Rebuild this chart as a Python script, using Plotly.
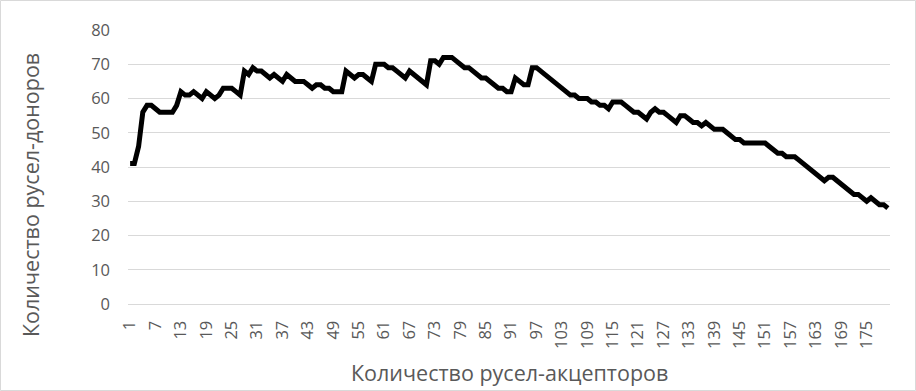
import plotly.graph_objects as go

categories = list(range(1, 181))
donors = [
    41, 41, 46, 56, 58, 58, 57, 56, 56, 56,
    56, 58, 62, 61, 61, 62, 61, 60, 62, 61,
    60, 61, 63, 63, 63, 62, 61, 68, 67, 69,
    68, 68, 67, 66, 67, 66, 65, 67, 66, 65,
    65, 65, 64, 63, 64, 64, 63, 63, 62, 62,
    62, 68, 67, 66, 67, 67, 66, 65, 70, 70,
    70, 69, 69, 68, 67, 66, 68, 67, 66, 65,
    64, 71, 71, 70, 72, 72, 72, 71, 70, 69,
    69, 68, 67, 66, 66, 65, 64, 63, 63, 62,
    62, 66, 65, 64, 64, 69, 69, 68, 67, 66,
    65, 64, 63, 62, 61, 61, 60, 60, 60, 59,
    59, 58, 58, 57, 59, 59, 59, 58, 57, 56,
    56, 55, 54, 56, 57, 56, 56, 55, 54, 53,
    55, 55, 54, 53, 53, 52, 53, 52, 51, 51,
    51, 50, 49, 48, 48, 47, 47, 47, 47, 47,
    47, 46, 45, 44, 44, 43, 43, 43, 42, 41,
    40, 39, 38, 37, 36, 37, 37, 36, 35, 34,
    33, 32, 32, 31, 30, 31, 30, 29, 29, 28,
]
x_ticks = list(range(1, 176, 6))
y_ticks = list(range(0, 81, 10))
x_title = "Количество русел-акцепторов"
y_title = "Количество русел-доноров"

FONT = "Open Sans"
GRAY = "#595959"

fig = go.Figure()
fig.add_trace(go.Scatter(
    x=categories, y=donors, mode="lines",
    line=dict(color="black", width=5, shape="linear"),
    hoverinfo="x+y", showlegend=False,
))

W, H = 916, 391
L, R, T, B = 128, 26, 30, 87
pw, ph = W - L - R, H - T - B

fig.update_layout(
    width=W, height=H,
    margin=dict(l=L, r=R, t=T, b=B, pad=0),
    paper_bgcolor="white", plot_bgcolor="white",
    font=dict(family=FONT, color=GRAY),
    xaxis=dict(
        type="linear", range=[0.5, 180.5],
        tickmode="array", tickvals=x_ticks, ticktext=[str(v) for v in x_ticks],
        tickangle=-90, tickfont=dict(size=16.5, color=GRAY, family=FONT),
        showgrid=False, zeroline=False,
        showline=True, linecolor="#d9d9d9", linewidth=1.3,
        ticks="", ticklabelstandoff=9, automargin=False,
    ),
    yaxis=dict(
        range=[0, 80], tickvals=y_ticks,
        tickfont=dict(size=16.5, color=GRAY, family=FONT),
        showgrid=True, gridcolor="#d9d9d9", gridwidth=1.3,
        zeroline=False, showline=False, ticks="",
        ticklabelstandoff=17, automargin=False,
    ),
    annotations=[
        dict(text=x_title, xref="paper", yref="paper",
             x=(509 - L) / pw, y=(H - B - 372) / ph, xanchor="center", yanchor="middle",
             showarrow=False, font=dict(size=21.5, color=GRAY, family=FONT)),
        dict(text=y_title, xref="paper", yref="paper", textangle=-90,
             x=(30 - L) / pw, y=(H - B - 195) / ph, xanchor="center", yanchor="middle",
             showarrow=False, font=dict(size=21.5, color=GRAY, family=FONT)),
    ],
    shapes=[
        dict(type="rect", xref="paper", yref="paper",
             x0=(0.5 - L) / pw, x1=(W - 0.5 - L) / pw,
             y0=(H - B - (H - 0.5)) / ph, y1=(H - B - 0.5) / ph,
             line=dict(color="#d9d9d9", width=1), fillcolor="rgba(0,0,0,0)", layer="below"),
    ],
)

fig.write_html(
    "out.html",
    config={"displayModeBar": False},
    post_script="document.body.style.margin='0';document.body.style.overflow='hidden';",
)
